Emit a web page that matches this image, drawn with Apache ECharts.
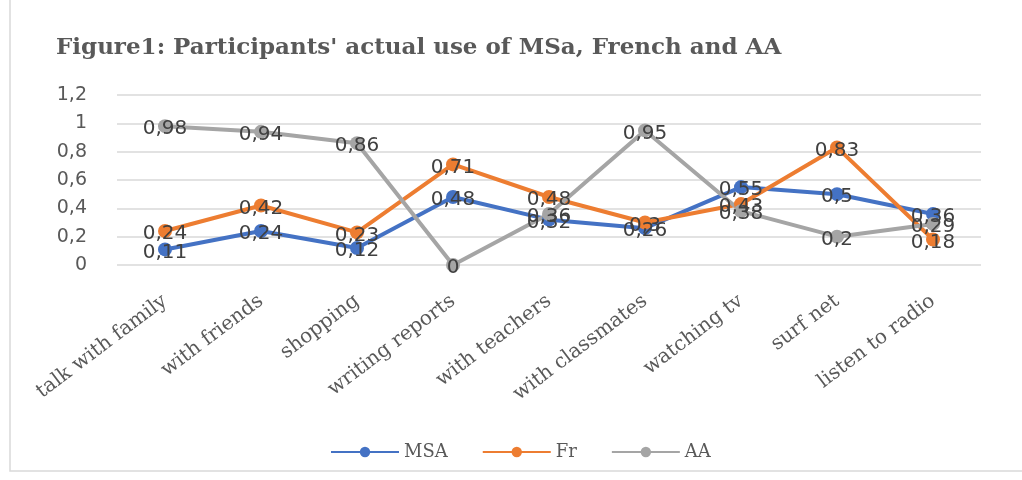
<!DOCTYPE html>
<html>
  <head>
    <meta charset="UTF-8" />
    <title>Figure1</title>
    <script src="https://cdn.jsdelivr.net/npm/echarts@6.0.0/dist/echarts.min.js"></script>
    <style>
      html, body { margin: 0; padding: 0; background: #fff; }
    </style>
  </head>
  <body>
    <div id="chart" style="width: 1022px; height: 480px"></div>
  </body>
  <script>
const categories = ['talk with family', 'with friends', 'shopping', 'writing reports', 'with teachers',
  'with classmates', 'watching tv', 'surf net', 'listen to radio'];
const msa = [0.11, 0.24, 0.12, 0.48, 0.32, 0.26, 0.55, 0.5, 0.36];
const fr = [0.24, 0.42, 0.23, 0.71, 0.48, 0.3, 0.43, 0.83, 0.18];
const aa = [0.98, 0.94, 0.86, 0, 0.36, 0.95, 0.38, 0.2, 0.29];

const comma = v => String(v).replace('.', ',');

function lineSeries(name, data, color) {
  return {
    name: name,
    type: 'line',
    data: data,
    symbol: 'circle',
    symbolSize: 14,
    lineStyle: { width: 4, color: color },
    itemStyle: { color: color },
    label: {
      show: true,
      position: 'inside',
      offset: [0, 3],
      fontFamily: 'DejaVu Sans',
      fontSize: 20,
      color: '#404040',
      formatter: p => comma(p.value)
    }
  };
}

let myChart = echarts.init(document.getElementById('chart'));
myChart.setOption({
  animation: false,
  title: {
    text: "Figure1: Participants' actual use of MSa, French and AA",
    left: 51,
    top: 32,
    textStyle: { fontFamily: 'DejaVu Serif', fontWeight: 'bold', fontSize: 23, color: '#595959' }
  },
  graphic: [{
    type: 'rect',
    shape: { x: 10, y: -5, width: 1030, height: 476 },
    style: { fill: 'none', stroke: '#d9d9d9', lineWidth: 1.5 }
  }],
  legend: {
    bottom: 14,
    left: 325,
    itemWidth: 68,
    itemHeight: 13,
    itemGap: 34,
    textStyle: { fontFamily: 'DejaVu Serif', fontSize: 18, color: '#595959' },
    data: ['MSA', 'Fr', 'AA']
  },
  grid: { left: 117, width: 864, top: 95, height: 170 },
  xAxis: {
    type: 'category',
    data: categories,
    axisLine: { show: false },
    axisTick: { show: false },
    axisLabel: {
      rotate: 37,
      interval: 0,
      margin: 34,
      fontFamily: 'DejaVu Serif',
      fontSize: 20,
      color: '#595959'
    }
  },
  yAxis: {
    type: 'value',
    min: 0,
    max: 1.2,
    interval: 0.2,
    axisLabel: {
      fontFamily: 'DejaVu Sans',
      fontSize: 19,
      color: '#595959',
      margin: 30,
      formatter: v => comma(Math.round(v * 10) / 10)
    },
    splitLine: { lineStyle: { color: '#d9d9d9', width: 1.5 } }
  },
  series: [
    lineSeries('MSA', msa, '#4472C4'),
    lineSeries('Fr', fr, '#ED7D31'),
    lineSeries('AA', aa, '#A5A5A5')
  ]
});
  </script>
</html>
